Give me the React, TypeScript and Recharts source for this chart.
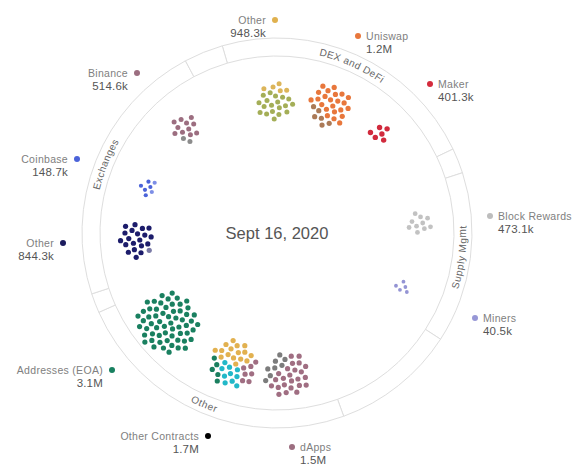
import React from 'react';
import { ScatterChart, Scatter, XAxis, YAxis, PieChart, Pie, Cell } from 'recharts';

const W = 572;
const H = 468;
const FONT = '"Liberation Sans", Arial, sans-serif';

// Ring segments (degrees of arc, clockwise from the DEX segment start)
const ringNames = ['DEX and DeFi', '', 'Supply Mgmt', '', 'Other', '', 'Exchanges', ''];
const ringSpans = [80.8, 7.5, 51, 37, 86, 5.8, 80.2, 11.7];

// Clusters of dots
const clusterKeys = ['dexOther', 'uniswap', 'maker', 'binance', 'coinbase', 'exOther', 'blockRewards', 'miners', 'eoa', 'otherContracts', 'dApps'];
const clusterX = [275, 330, 379, 186, 148, 137, 420, 403, 168, 233, 287];
const clusterY = [102, 106, 134, 129, 187, 240, 223, 287, 323, 364, 375];
const clusterDots = [24, 29, 6, 13, 7, 21, 10, 5, 60, 38, 32];

// Outside labels
const labelNames = ['Other', 'Uniswap', 'Maker', 'Binance', 'Coinbase', 'Other', 'Block Rewards', 'Miners', 'Addresses (EOA)', 'Other Contracts', 'dApps'];
const labelValues = ['948.3k', '1.2M', '401.3k', '514.6k', '148.7k', '844.3k', '473.1k', '40.5k', '3.1M', '1.7M', '1.5M'];
const labelX = [275, 358, 430, 137, 77, 63, 490, 475, 112, 208, 292];
const labelY = [20, 36, 84, 73, 159, 243, 216, 318, 370, 436, 447];
const labelSide = ['end', 'start', 'start', 'end', 'end', 'end', 'start', 'start', 'end', 'end', 'start'];

const centerTitle = 'Sept 16, 2020';

// styles
const labelColors = ['#e0b14f', '#e8773c', '#d42b3c', '#9c6e80', '#4b63d9', '#1b1b5e', '#bdbdbd', '#9797d6', '#188060', '#000000', '#9c6e80'];
const clusterParts: Record<string, [string, number, number][]> = {
  dexOther: [['#a4ae57', 0, 4], ['#dcb55a', 0, -24]],
  uniswap: [['#e8773c', 6, -6], ['#ab7a57', -22, 20]],
  maker: [['#d12a3d', 0, 0]],
  binance: [['#9c6e80', 0, -6], ['#8c8c8c', 0, 18]],
  coinbase: [['#4b63d9', -6, 0], ['#7d8ee6', 10, 5]],
  exOther: [['#1c1c6b', -4, 0], ['#7a7aa6', 30, 8]],
  blockRewards: [['#c2c2c2', 0, 0]],
  miners: [['#9494d4', 0, 0]],
  eoa: [['#1a8060', 0, 0]],
  otherContracts: [['#e2b150', 4, -14], ['#1a7f5f', -28, 12], ['#22b8c8', -2, 14], ['#a06e82', 20, 14]],
  dApps: [['#a06e82', 4, 4], ['#7c7c7c', -20, -16]],
};
const clusterSpacing: Record<string, number> = {
  dexOther: 7.3, uniswap: 7.5, maker: 7.8, binance: 7.4, coinbase: 6.4, exOther: 7.5,
  blockRewards: 7.3, miners: 6.4, eoa: 7.6, otherContracts: 7.4, dApps: 7.6,
};
const clusterDotR: Record<string, number> = {
  dexOther: 2.5, uniswap: 2.6, maker: 2.7, binance: 2.5, coinbase: 2.1, exOther: 2.6,
  blockRewards: 2.4, miners: 1.9, eoa: 2.6, otherContracts: 2.6, dApps: 2.6,
};

const ringData = ringNames.map((name, i) => ({ name, value: ringSpans[i] }));
const clusterData = clusterKeys.map((key, i) => ({ key, x: clusterX[i], y: clusterY[i], n: clusterDots[i] }));
const labelData = labelNames.map((name, i) => ({ name, value: labelValues[i], x: labelX[i], y: labelY[i], side: labelSide[i], idx: i }));
const centerData = [{ x: 277, y: 233, label: centerTitle }];

const GOLDEN = Math.PI * (3 - Math.sqrt(5));
const RAD = Math.PI / 180;

const ClusterShape = (props: any) => {
  const { cx, cy, payload } = props;
  if (cx == null || cy == null) return null;
  const key = payload.key;
  const c = clusterSpacing[key] * 0.525;
  const parts = clusterParts[key];
  const r = clusterDotR[key];
  const dots = [];
  for (let i = 0; i < payload.n; i++) {
    const rr = c * Math.sqrt(i + 0.5);
    const th = i * GOLDEN;
    const dx = rr * Math.cos(th);
    const dy = rr * Math.sin(th);
    let best = 0;
    let bd = Infinity;
    parts.forEach((p, j) => {
      const d = (dx - p[1]) ** 2 + (dy - p[2]) ** 2;
      if (d < bd) { bd = d; best = j; }
    });
    dots.push(<circle key={i} cx={cx + dx} cy={cy + dy} r={r} fill={parts[best][0]} />);
  }
  return <g>{dots}</g>;
};

const LabelShape = (props: any) => {
  const { cx, cy, payload } = props;
  if (cx == null || cy == null) return null;
  const left = payload.side === 'end';
  const tx = left ? cx - 9 : cx + 8;
  return (
    <g>
      <circle cx={cx} cy={cy} r={3} fill={labelColors[payload.idx]} />
      <text x={tx} y={cy} dy="0.35em" textAnchor={payload.side} fontSize={10.5} fill="#808080" fontFamily={FONT} letterSpacing={0.3}>
        {payload.name}
      </text>
      <text x={tx} y={cy + 13} dy="0.35em" textAnchor={payload.side} fontSize={11.5} fill="#555" fontFamily={FONT} letterSpacing={0.2}>
        {payload.value}
      </text>
    </g>
  );
};

const CenterShape = (props: any) => {
  const { cx, cy, payload } = props;
  if (cx == null || cy == null) return null;
  return (
    <text x={cx} y={cy} dy="0.35em" textAnchor="middle" fontSize={16.5} fill="#555" fontFamily={FONT}>
      {payload.label}
    </text>
  );
};

const renderRingLabel = (p: any) => {
  const name = ringNames[p.index];
  if (!name) return null;
  const cx = p.cx;
  const cy = p.cy;
  const r = (p.innerRadius + p.outerRadius) / 2;
  const m = (p.startAngle + p.endAngle) / 2;
  const theta = ((90 - m) % 360 + 360) % 360;
  const ccw = theta > 90 && theta < 270;
  const span = 45;
  const P = (a: number) => [cx + r * Math.cos(-a * RAD), cy + r * Math.sin(-a * RAD)];
  let d: string;
  if (!ccw) {
    const s = P(m + span);
    const e = P(m - span);
    d = `M ${s[0]} ${s[1]} A ${r} ${r} 0 0 1 ${e[0]} ${e[1]}`;
  } else {
    const s = P(m - span);
    const e = P(m + span);
    d = `M ${s[0]} ${s[1]} A ${r} ${r} 0 0 0 ${e[0]} ${e[1]}`;
  }
  const id = `ring-arc-${p.index}`;
  return (
    <g>
      <path id={id} d={d} fill="none" stroke="none" />
      <text fontSize={10} fill="#666" fontFamily={FONT} letterSpacing={0.5} dy="0.35em">
        <textPath href={`#${id}`} startOffset="50%" textAnchor="middle">
          {name}
        </textPath>
      </text>
    </g>
  );
};

export default function App() {
  return (
    <div style={{ position: 'absolute', left: 0, top: 0, width: W, height: H, background: '#fff' }}>
      <div style={{ position: 'absolute', left: 0, top: 0 }}>
        <PieChart width={W} height={H} margin={{ top: 0, right: 0, bottom: 0, left: 0 }}>
          <Pie
            data={ringData}
            dataKey="value"
            nameKey="name"
            cx={277}
            cy={233}
            innerRadius={177}
            outerRadius={195}
            startAngle={106.3}
            endAngle={-253.7}
            stroke="#dedede"
            strokeWidth={1}
            isAnimationActive={false}
            label={renderRingLabel}
            labelLine={false}
          >
            {ringData.map((d, i) => (
              <Cell key={i} fill="#ffffff" />
            ))}
          </Pie>
        </PieChart>
      </div>
      <div style={{ position: 'absolute', left: 0, top: 0 }}>
        <ScatterChart width={W} height={H} margin={{ top: 0, right: 0, bottom: 0, left: 0 }}>
          <XAxis type="number" dataKey="x" domain={[0, W]} hide />
          <YAxis type="number" dataKey="y" domain={[0, H]} reversed hide />
          <Scatter data={clusterData} shape={ClusterShape} isAnimationActive={false} />
          <Scatter data={labelData} shape={LabelShape} isAnimationActive={false} />
          <Scatter data={centerData} shape={CenterShape} isAnimationActive={false} />
        </ScatterChart>
      </div>
    </div>
  );
}
